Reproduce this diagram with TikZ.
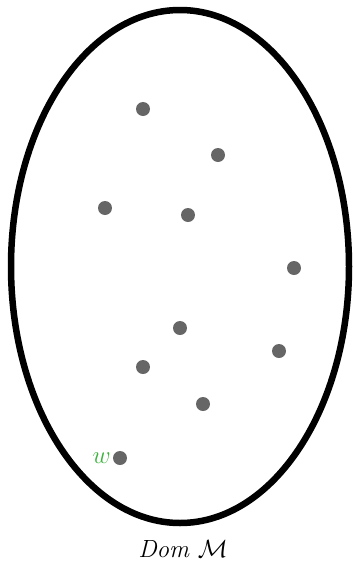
\documentclass[tikz,border=0pt]{standalone}
\usepackage{amsmath}
\usetikzlibrary{positioning}
\definecolor{dotgray}{RGB}{102,102,102}
\definecolor{wgreen}{RGB}{60,180,60}
\begin{document}
\begin{tikzpicture}[x=1pt,y=-1pt,
  dot/.style={circle,fill=dotgray,inner sep=0pt,minimum size=14pt}]
\useasboundingbox (0,0) rectangle (353,563);
% domain
\draw[line width=6.5pt] (180,266.5) ellipse (169 and 256.5);
\node[font=\fontsize{28}{32}\selectfont] (dom) at (183,549) {$\mathit{Dom}\;\mathcal{M}$};
% points of the domain
\foreach \x/\y [count=\i] in {143/109,218/155,105/208,188/215,294/268,
                              180/328,279/351,143/367,203/404}
  \node[dot] (p\i) at (\x,\y) {};
\node[dot] (w) at (120,458) {};
\node[left=2pt of w,text=wgreen,inner sep=0pt,font=\fontsize{28}{32}\selectfont] (wlab) {$w$};
\end{tikzpicture}
\end{document}
